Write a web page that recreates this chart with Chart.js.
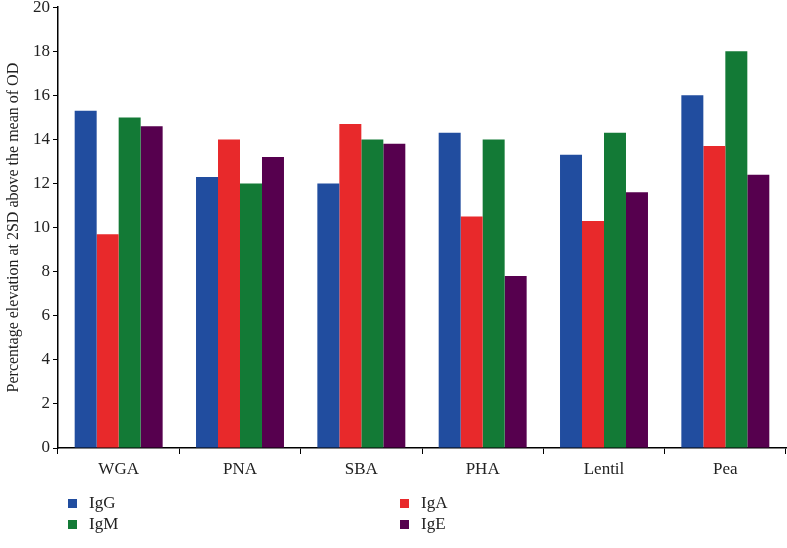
<!DOCTYPE html>
<html>
<head>
<meta charset="utf-8">
<script src="https://cdn.jsdelivr.net/npm/chart.js@4"></script>
<style>
  html, body { margin: 0; padding: 0; background: #fff; overflow: hidden; }
  #wrap { position: relative; width: 787px; height: 548px; overflow: hidden; }
  #chart { position: absolute; left: 0; top: -6px; }
  #legend { position: absolute; left: 68px; top: 493px; width: 700px;
    font-family: "Liberation Serif", "DejaVu Serif", serif; font-size: 17px; color: #222; }
  .item { position: absolute; display: flex; align-items: center; }
  .box { width: 9px; height: 9px; margin-right: 12px; }
</style>
</head>
<body>
<div id="wrap">
  <canvas id="chart" width="787" height="554"></canvas>
  <div id="legend"></div>
</div>
<script>
const categories = ["WGA", "PNA", "SBA", "PHA", "Lentil", "Pea"];
const igG = [15.3, 12.3, 12.0, 14.3, 13.3, 16.0];
const igA = [9.7, 14.0, 14.7, 10.5, 10.3, 13.7];
const igM = [15.0, 12.0, 14.0, 14.0, 14.3, 18.0];
const igE = [14.6, 13.2, 13.8, 7.8, 11.6, 12.4];
const yTicks = [0, 2, 4, 6, 8, 10, 12, 14, 16, 18, 20];

const series = [
    { label: "IgG", data: igG, color: "#214d9f" },
    { label: "IgA", data: igA, color: "#e8292b" },
    { label: "IgM", data: igM, color: "#137a36" },
    { label: "IgE", data: igE, color: "#56004e" }
];

// legend laid out in two columns like the original
const legendPos = [[0, 0], [332, 0], [0, 21], [332, 21]];
const legend = document.getElementById("legend");
series.forEach((s, i) => {
    const el = document.createElement("div");
    el.className = "item";
    el.style.left = legendPos[i][0] + "px";
    el.style.top = legendPos[i][1] + "px";
    el.innerHTML = `<span class="box" style="background:${s.color}"></span><span>${s.label}</span>`;
    legend.appendChild(el);
});

Chart.defaults.font.family = '"Liberation Serif", "DejaVu Serif", serif';
Chart.defaults.color = "#222";

new Chart(document.getElementById("chart").getContext("2d"), {
    type: "bar",
    data: {
        labels: categories,
        datasets: series.map(s => ({
            label: s.label,
            data: s.data,
            backgroundColor: s.color,
            borderWidth: 0,
            categoryPercentage: 0.725,
            barPercentage: 1.0
        }))
    },
    options: {
        responsive: false,
        animation: false,
        layout: { padding: { top: 0, right: 1, left: 0, bottom: 0 } },
        plugins: {
            legend: { display: false },
            tooltip: { enabled: false }
        },
        scales: {
            x: {
                grid: { display: true, drawOnChartArea: false, drawTicks: true, tickLength: 6, color: "#000", offset: true },
                border: { display: true, color: "#000", width: 1.5 },
                ticks: { font: { size: 17 }, padding: 5 },
                afterFit(scale) { scale.height = 100; }
            },
            y: {
                min: 0,
                max: 20,
                afterBuildTicks(scale) { scale.ticks = yTicks.map(v => ({ value: v })); },
                grid: { display: true, drawOnChartArea: false, drawTicks: true, tickLength: 5, color: "#000" },
                border: { display: true, color: "#000", width: 1.5 },
                ticks: { font: { size: 17 }, padding: 3 },
                title: { display: true, text: "Percentage elevation at 2SD above the mean of OD", font: { size: 16 }, padding: { top: 4, bottom: 0 } },
                afterFit(scale) { scale.width = 58; }
            }
        }
    }
});
</script>
</body>
</html>
